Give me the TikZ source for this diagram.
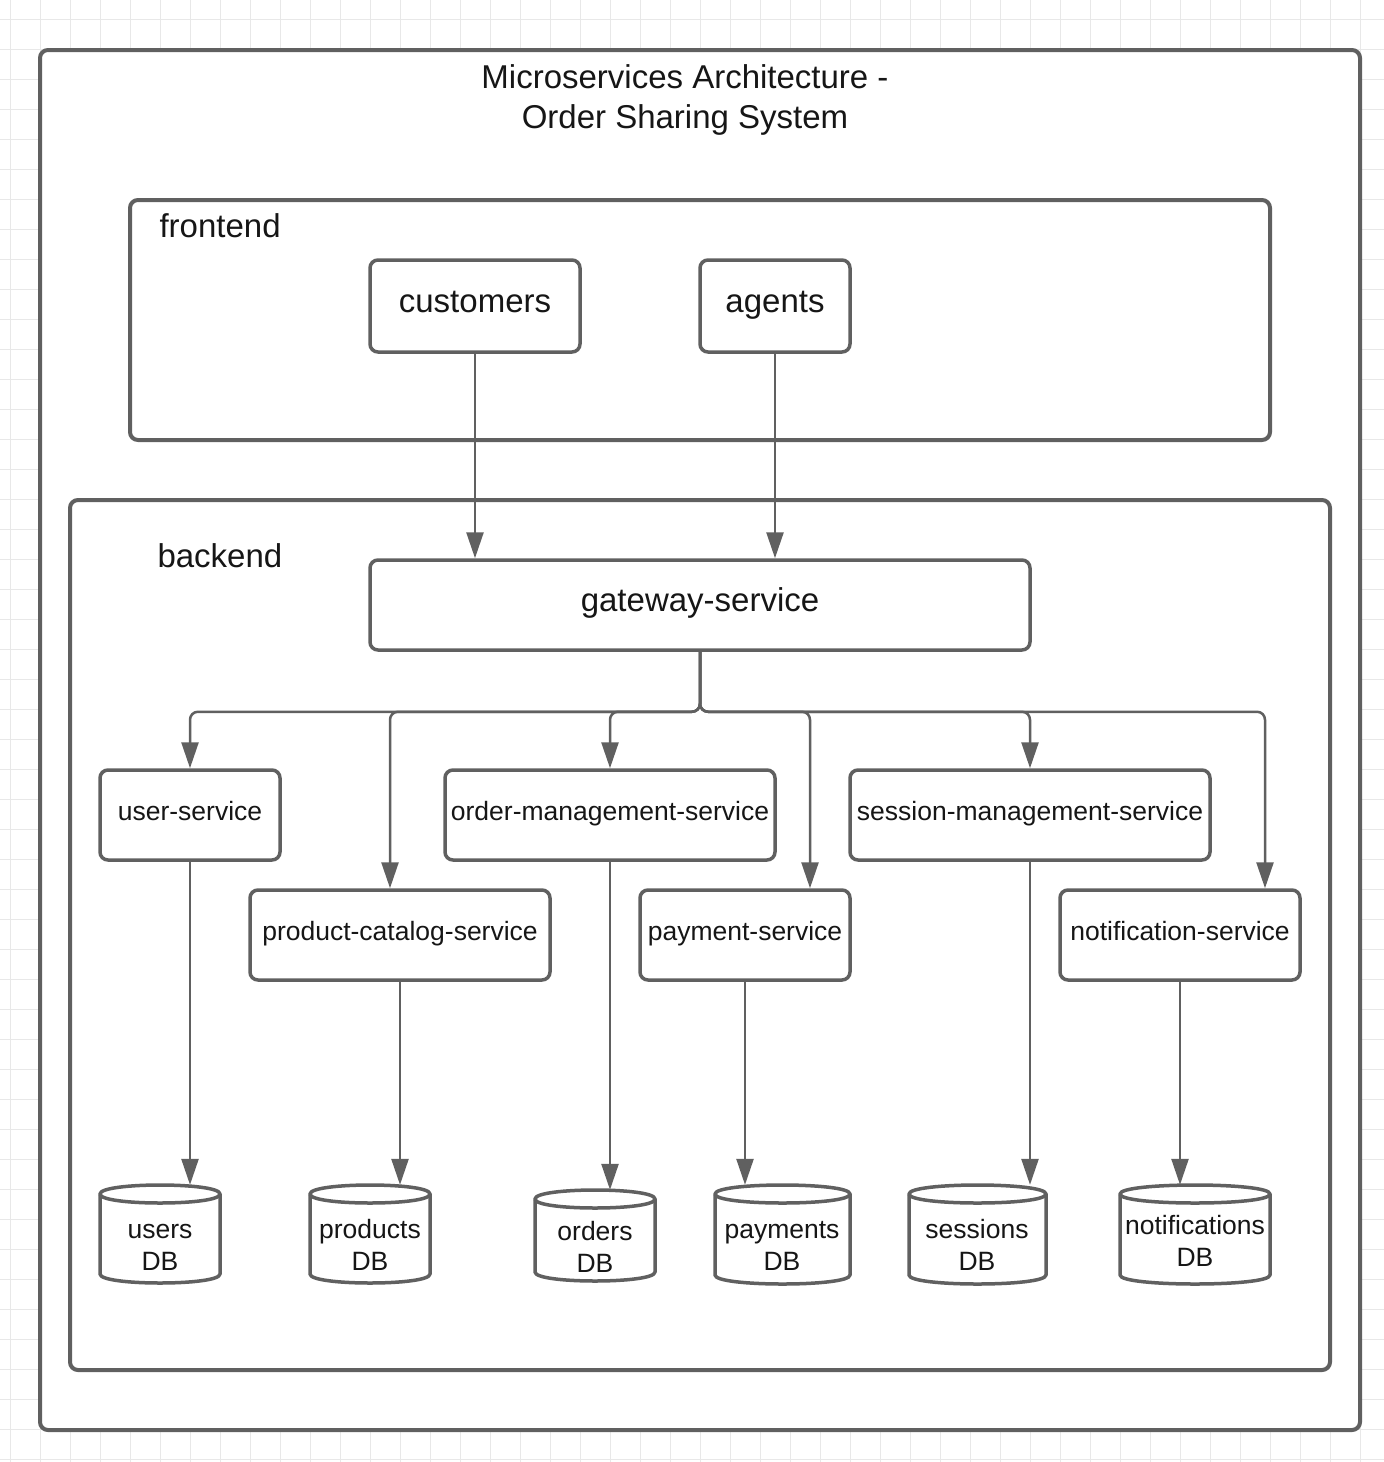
\documentclass[tikz,border=0pt]{standalone}
\usepackage{fontspec}
\setmainfont{Liberation Sans}
\usetikzlibrary{arrows.meta}
\definecolor{linec}{HTML}{606060}
\definecolor{txtc}{HTML}{161616}
\definecolor{gridc}{HTML}{E8E8E8}
\newcommand\dbshape[4]{%
  \draw[dbline] (#1,#3+9) -- (#1,#4-9) .. controls (#1,#4+3) and (#2,#4+3) .. (#2,#4-9) -- (#2,#3+9) .. controls (#2,#3-3) and (#1,#3-3) .. cycle;
  \draw[dbline,fill=none] (#1,#3+9) .. controls (#1,#3+21) and (#2,#3+21) .. (#2,#3+9);
}
\tikzset{
  container/.style={draw=linec, line width=4pt, rounded corners=8pt, fill=white, inner sep=0pt},
  box/.style={draw=linec, line width=3.5pt, rounded corners=8pt, fill=white, text=txtc, inner sep=0pt, text height=12pt, text depth=2pt},
  bigbox/.style={box, text height=14pt, text depth=2pt},
  bigtext/.style={font=\fontsize{33}{40}\selectfont, text=txtc},
  smalltext/.style={font=\fontsize{26.5}{32}\selectfont, text=txtc},
  dbline/.style={draw=linec, line width=3.5pt, fill=white, line join=round},
  dbarea/.style={draw=none, inner sep=0pt},
  conn/.style={draw=linec, line width=2.5pt, -{Triangle[length=26pt,width=17pt]}, rounded corners=8pt},
  gridline/.style={draw=gridc, line width=1pt},
}
\begin{document}
\begin{tikzpicture}[x=1pt,y=-1pt]
\useasboundingbox (0,0) rectangle (1384,1462);
\fill[white] (0,0) rectangle (1384,1462);
\foreach \gx in {10,40,...,1384} \draw[gridline] (\gx,0) -- (\gx,1462);
\foreach \gy in {19,49,...,1462} \draw[gridline] (0,\gy) -- (1384,\gy);

% containers
\node[container, minimum width=1320, minimum height=1380] (outer) at (700,740) {};
\node[bigtext, align=center] (title) at (685,100) {Microservices Architecture -\\Order Sharing System};
\node[container, minimum width=1140, minimum height=240] (front) at (700,320) {};
\node[bigtext, anchor=west] (frontlbl) at (156,226) {frontend};
\node[container, minimum width=1260, minimum height=870] (back) at (700,935) {};
\node[bigtext, anchor=west] (backlbl) at (154,556) {backend};

% frontend nodes
\node[bigbox, bigtext, minimum width=210, minimum height=92] (cust) at (475,306) {customers};
\node[bigbox, bigtext, minimum width=150, minimum height=92] (agents) at (775,306) {agents};

% gateway
\node[bigbox, bigtext, minimum width=660, minimum height=90] (gw) at (700,605) {gateway-service};

% services
\node[box, smalltext, minimum width=180, minimum height=90] (user) at (190,815) {user-service};
\node[box, smalltext, minimum width=330, minimum height=90] (order) at (610,815) {order-management-service};
\node[box, smalltext, minimum width=360, minimum height=90] (sess) at (1030,815) {session-management-service};
\node[box, smalltext, minimum width=300, minimum height=90] (pc) at (400,935) {product-catalog-service};
\node[box, smalltext, minimum width=210, minimum height=90] (pay) at (745,935) {payment-service};
\node[box, smalltext, minimum width=240, minimum height=90] (notif) at (1180,935) {notification-service};

% databases
\dbshape{100}{220}{1185}{1283}
\node[dbarea, minimum width=120, minimum height=98] (udb) at (160,1234) {};
\node[smalltext, align=center] (udbt) at (160,1247) {users\\DB};
\dbshape{310}{430}{1185}{1283}
\node[dbarea, minimum width=120, minimum height=98] (pdb) at (370,1234) {};
\node[smalltext, align=center] (pdbt) at (370,1245) {products\\DB};
\dbshape{535}{655}{1190}{1281}
\node[dbarea, minimum width=120, minimum height=91] (odb) at (595,1235.5) {};
\node[smalltext, align=center] (odbt) at (595,1247) {orders\\DB};
\dbshape{715}{850}{1185}{1284}
\node[dbarea, minimum width=135, minimum height=99] (paydb) at (782.5,1234.5) {};
\node[smalltext, align=center] (paydbt) at (782,1246) {payments\\DB};
\dbshape{909}{1046}{1185}{1284}
\node[dbarea, minimum width=137, minimum height=99] (sdb) at (977.5,1234.5) {};
\node[smalltext, align=center] (sdbt) at (977,1245) {sessions\\DB};
\dbshape{1120}{1270}{1185}{1284}
\node[dbarea, minimum width=150, minimum height=99] (ndb) at (1195,1234.5) {};
\node[smalltext, align=center] (ndbt) at (1195,1241) {notifications\\DB};

% connectors frontend -> gateway
\draw[conn] (cust.south) -- (cust.south |- gw.north);
\draw[conn] (agents.south) -- (agents.south |- gw.north);

% gateway -> services
\coordinate (pcin) at ([xshift=-10pt]pc.north);
\coordinate (payin) at ([xshift=65pt]pay.north);
\coordinate (notifin) at ([xshift=85pt]notif.north);
\draw[conn] (gw.south) -- ++(0,60) -| (user.north);
\draw[conn] (gw.south) -- ++(0,60) -| (pcin);
\draw[conn] (gw.south) -- ++(0,60) -| (order.north);
\draw[conn] (gw.south) -- ++(0,60) -| (payin);
\draw[conn] (gw.south) -- ++(0,60) -| (sess.north);
\draw[conn] (gw.south) -- ++(0,60) -| (notifin);

% services -> databases
\draw[conn] (user.south) -- (user.south |- udb.north);
\draw[conn] (pc.south) -- (pc.south |- pdb.north);
\draw[conn] (order.south) -- (order.south |- odb.north);
\draw[conn] (pay.south) -- (pay.south |- paydb.north);
\draw[conn] (sess.south) -- (sess.south |- sdb.north);
\draw[conn] (notif.south) -- (notif.south |- ndb.north);
\end{tikzpicture}
\end{document}
